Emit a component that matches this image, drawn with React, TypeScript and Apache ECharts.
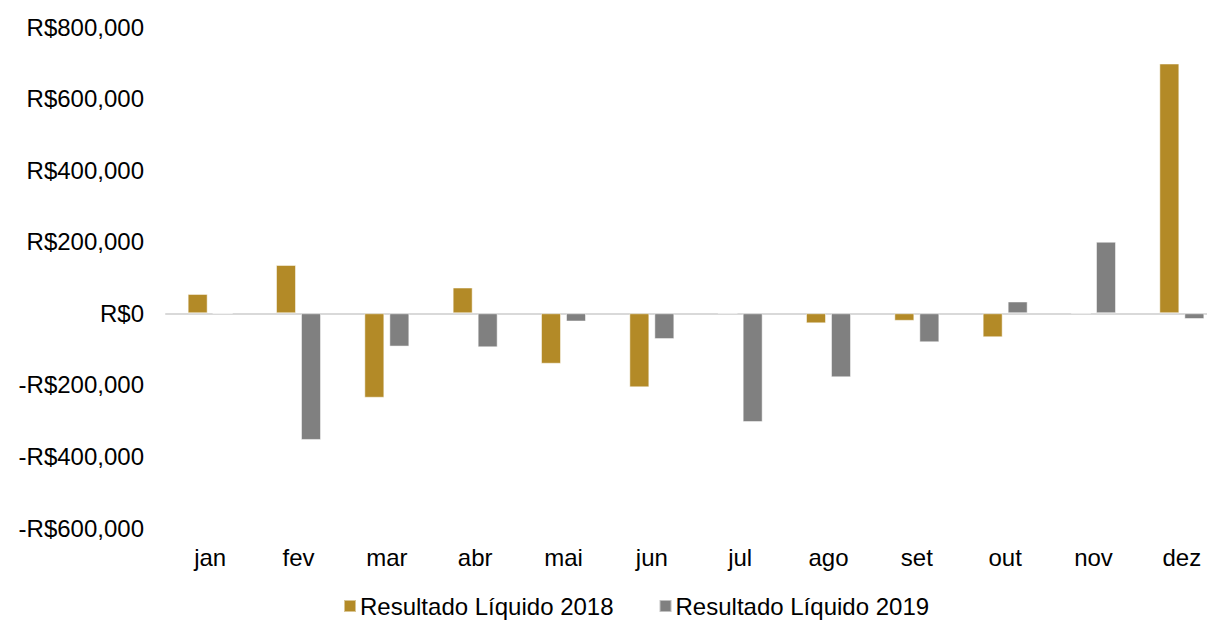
import React, { useEffect, useRef } from "react";
import * as echarts from "echarts";

const months = ["jan", "fev", "mar", "abr", "mai", "jun", "jul", "ago", "set", "out", "nov", "dez"];
const result2018 = [54000, 135000, -236000, 72000, -141000, -207000, 1000, -28000, -21000, -67000, 1000, 698000];
const result2019 = [0, -354000, -93000, -95000, -23000, -72000, -304000, -179000, -81000, 33000, 200000, -16000];
const seriesNames = ["Resultado Líquido 2018", "Resultado Líquido 2019"];
const yTicks = { min: -600000, max: 800000, interval: 200000 };

const FONT = "'Liberation Sans', Arial, sans-serif";

function fmt(v: number): string {
  const s = Math.abs(v).toLocaleString("en-US");
  return (v < 0 ? "-" : "") + "R$" + s;
}

export default function App() {
  const ref = useRef<HTMLDivElement>(null);
  useEffect(() => {
    if (!ref.current) return;
    const chart = echarts.init(ref.current, undefined, { renderer: "svg" });
    chart.setOption({
      animation: false,
      backgroundColor: "#ffffff",
      textStyle: { fontFamily: FONT },
      grid: { left: 166, top: 27, bottom: 93, width: 1060, containLabel: false },
      legend: {
        top: 594,
        left: 343,
        padding: 0,
        itemWidth: 12,
        itemHeight: 12,
        itemGap: 45,
        icon: "rect",
        textStyle: { fontSize: 24, color: "#000", fontFamily: FONT, padding: [0, 0, 0, -1] },
        data: seriesNames,
      },
      xAxis: {
        type: "category",
        data: months,
        axisLine: { show: true, onZero: true, lineStyle: { color: "#d9d9d9", width: 2 } },
        axisTick: { show: false },
        axisLabel: {
          fontSize: 24,
          color: "#000",
          fontFamily: FONT,
          margin: 17,
        },
        position: "bottom",
      },
      yAxis: {
        type: "value",
        min: yTicks.min,
        max: yTicks.max,
        interval: yTicks.interval,
        axisLine: { show: false },
        axisTick: { show: false },
        splitLine: { show: false },
        axisLabel: {
          fontSize: 24,
          color: "#000",
          fontFamily: FONT,
          margin: 22,
          formatter: (v: number) => fmt(v),
        },
      },
      series: [
        {
          name: seriesNames[0],
          type: "bar",
          data: result2018,
          barWidth: 20,
          barGap: "25%",
          itemStyle: { color: "#B38A27", borderColor: "rgba(255,255,255,0.5)", borderWidth: 1 },
        },
        {
          name: seriesNames[1],
          type: "bar",
          data: result2019,
          barWidth: 20,
          barGap: "25%",
          itemStyle: { color: "#808080", borderColor: "rgba(255,255,255,0.5)", borderWidth: 1 },
        },
      ],
    });
    return () => chart.dispose();
  }, []);
  return (
    <div style={{ position: "fixed", left: 0, top: 0, width: 1207, height: 621, overflow: "hidden", background: "#fff" }}>
      <div ref={ref} style={{ width: 1240, height: 621 }} />
    </div>
  );
}
